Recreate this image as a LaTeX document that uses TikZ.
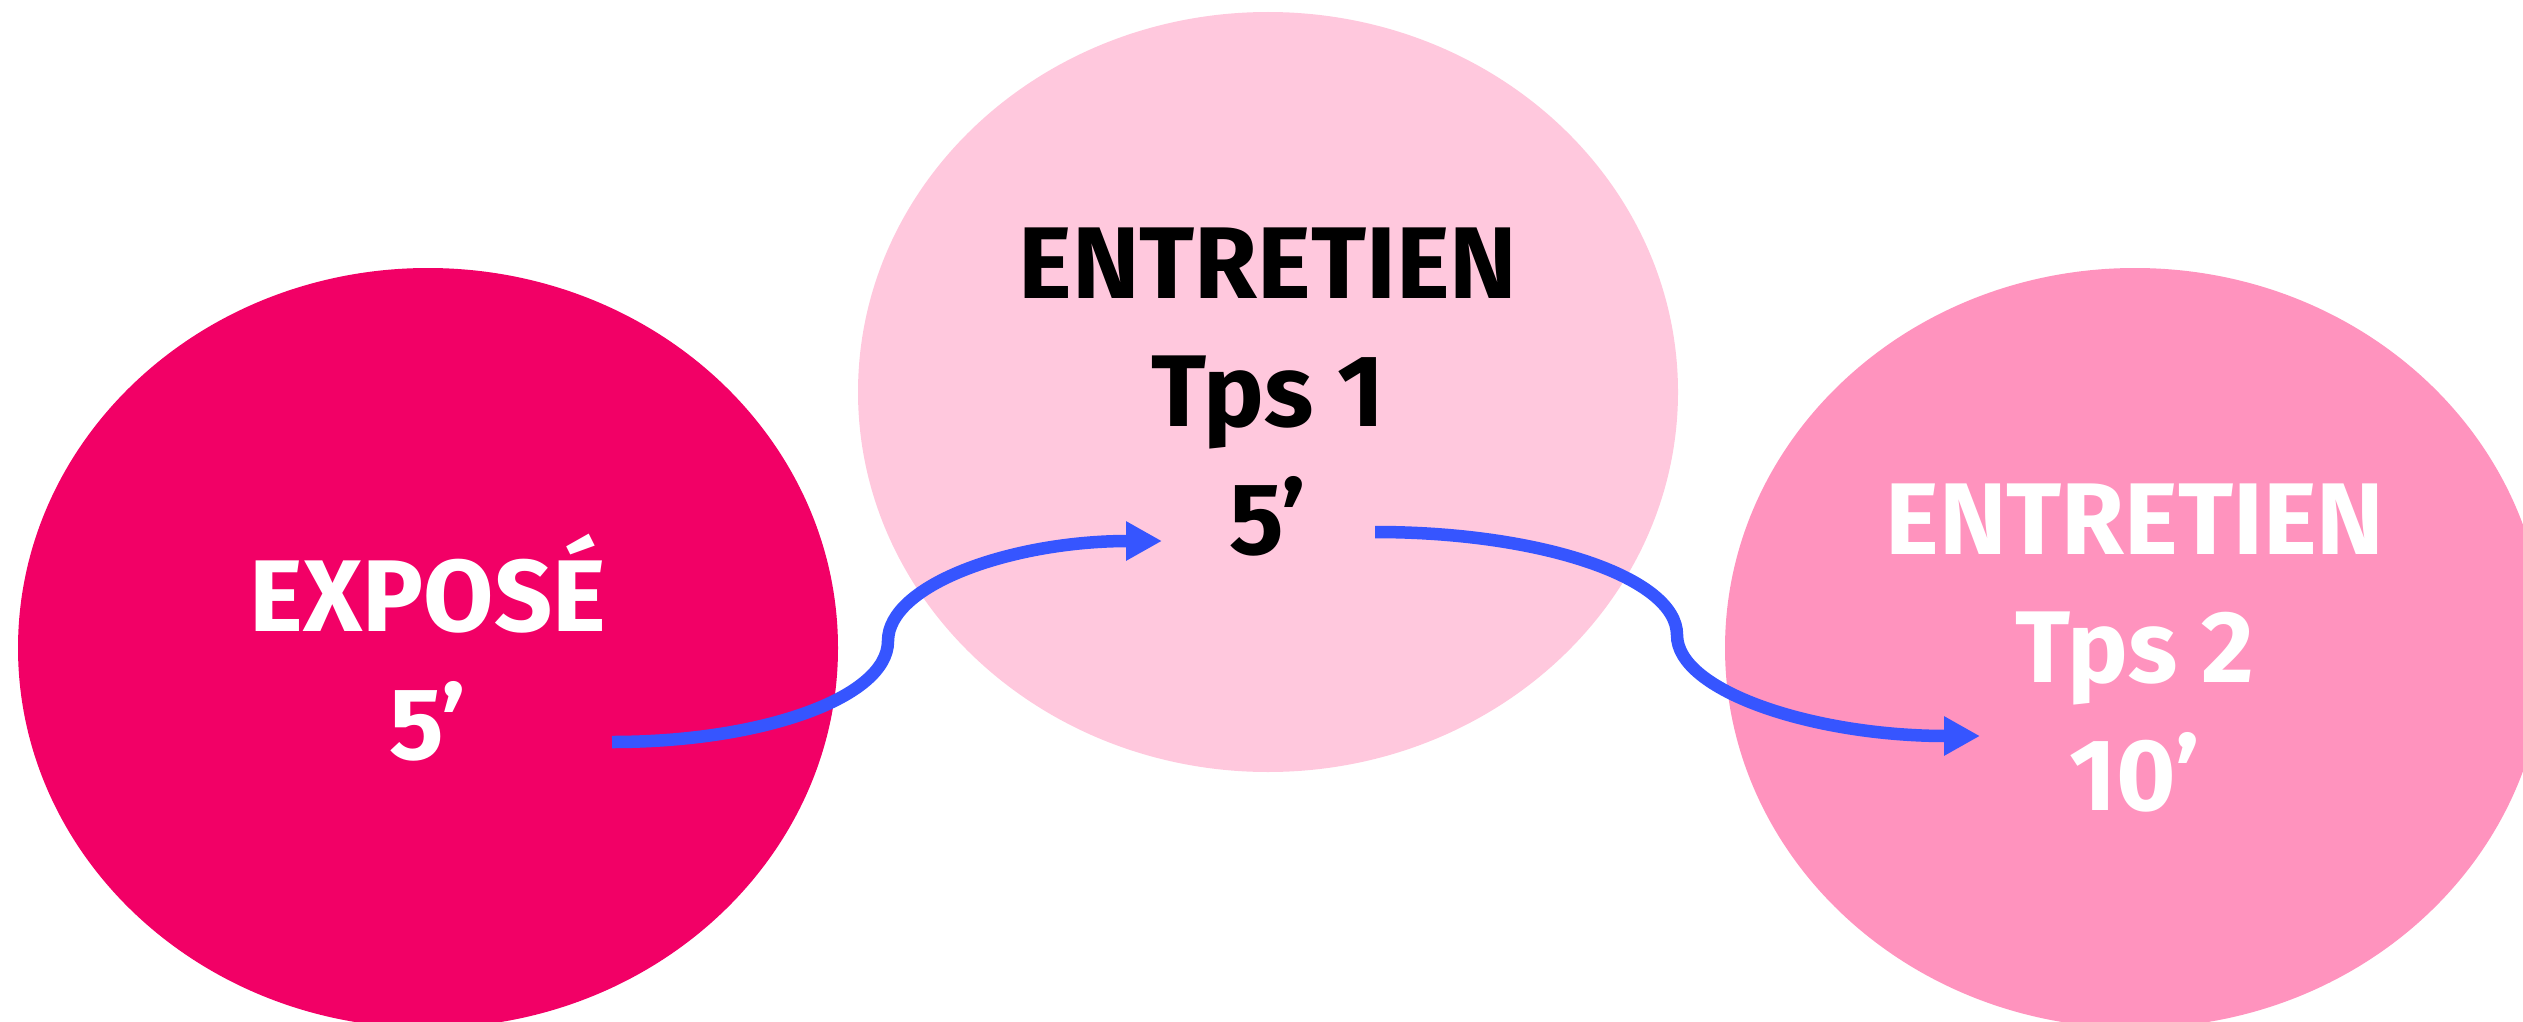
\documentclass[tikz,border=0pt]{standalone}
\usepackage{fontspec}
\setmainfont{Fira Sans}
\usetikzlibrary{arrows.meta,shapes.geometric}
\definecolor{expoColor}{HTML}{F20066}
\definecolor{tpsOneColor}{HTML}{FFC8DD}
\definecolor{tpsTwoColor}{HTML}{FF93BE}
\definecolor{flowColor}{HTML}{3655FF}
\tikzset{phase/.style={ellipse, minimum width=8.2cm, minimum height=7.6cm, inner sep=0pt,
	align=center, font=\fontsize{29}{36.4}\selectfont\bfseries}}
\tikzset{flow/.style={draw=flowColor, line width=1.25mm, -{Triangle[length=3.6mm,width=3.7mm]}}}

\begin{document}
\begin{tikzpicture}[>=stealth, semithick]
	\useasboundingbox (0,0) rectangle (25.23,10.21);
	\clip (0,0) rectangle (25.23,10.21);
	\node[phase, fill=expoColor, text=white] at (4.28,3.73) (expo) {EXPOSÉ\\5’};
	\node[phase, fill=tpsOneColor, text=black] at (12.68,6.29) (tps_1) {ENTRETIEN\\Tps 1\\5’};
	\node[phase, fill=tpsTwoColor, text=white] at (21.35,3.73) (tps_2) {ENTRETIEN\\Tps 2\\10’};
	\coordinate (out_1) at (6.12,2.79);
	\coordinate (turn_1) at (8.88,3.80);
	\coordinate (in_1) at (11.62,4.80);
	\coordinate (out_2) at (13.75,4.89);
	\coordinate (turn_2) at (16.77,3.86);
	\coordinate (in_2) at (19.80,2.85);
	\draw[flow] (out_1) .. controls +(1.52,0) and +(0,-0.56) .. (turn_1)
		.. controls +(0,0.56) and +(-1.51,0) .. (in_1);
	% \draw[flow] (out_1) to[out=0,in=-90] (turn_1) to[out=90,in=180] (in_1);
	\draw[flow] (out_2) .. controls +(1.67,0) and +(0,0.57) .. (turn_2)
		.. controls +(0,-0.56) and +(-1.67,0) .. (in_2);
\end{tikzpicture}
\end{document}
